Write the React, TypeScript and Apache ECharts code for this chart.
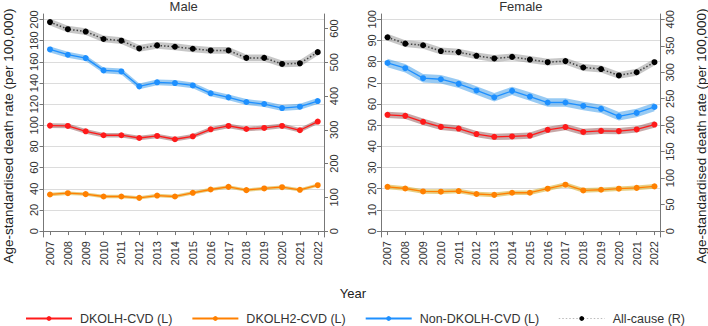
import React, { useEffect, useRef } from "react";
import * as echarts from "echarts";

// Years on the x axis
const years = [2007, 2008, 2009, 2010, 2011, 2012, 2013, 2014, 2015, 2016, 2017, 2018, 2019, 2020, 2021, 2022];

// Male rates (left axis for cause-specific, right axis for all-cause)
const maleDkolh = [99.7, 99.4, 94.3, 90.6, 90.6, 88.0, 89.9, 86.8, 89.6, 96.2, 99.4, 96.5, 97.5, 99.4, 95.3, 103.5];
const maleDkolh2 = [34.6, 35.8, 34.9, 32.7, 32.7, 31.4, 33.6, 32.7, 36.2, 39.3, 41.8, 38.7, 40.3, 41.5, 39.0, 43.4];
const maleNonDkolh = [171.7, 166.7, 163.5, 151.9, 150.9, 136.8, 140.6, 139.9, 137.7, 130.2, 126.4, 122.0, 120.1, 116.3, 117.6, 122.9];
const maleAllCause = [619, 598, 591, 569, 564, 541, 550, 546, 540, 535, 535, 513, 513, 495, 497, 530];

// Female rates
const femaleDkolh = [54.9, 54.4, 51.6, 49.2, 48.4, 45.8, 44.5, 44.7, 45.1, 47.8, 49.1, 46.8, 47.3, 47.2, 48.0, 50.3];
const femaleDkolh2 = [20.9, 20.1, 18.7, 18.6, 18.9, 17.5, 17.1, 18.1, 18.1, 20.0, 21.9, 19.2, 19.5, 20.0, 20.4, 21.1];
const femaleNonDkolh = [79.4, 76.9, 72.2, 71.7, 69.5, 66.4, 63.2, 66.2, 63.5, 60.7, 60.7, 59.1, 57.7, 54.2, 55.8, 58.6];
const femaleAllCause = [366, 354, 351, 340, 338, 331, 326, 329, 324, 319, 321, 309, 306, 294, 300, 319];

// 95% CI half-widths (same units as the series)
const maleCi = { dkolh: 2.2, dkolh2: 1.6, non: 2.8, all: 10 };
const femaleCi = { dkolh: 1.5, dkolh2: 1.1, non: 2.0, all: 6.5 };

// Axis tick values
const maleLeftTicks = [0, 20, 40, 60, 80, 100, 120, 140, 160, 180, 200];
const maleRightTicks = [0, 100, 200, 300, 400, 500, 600];
const femaleLeftTicks = [0, 10, 20, 30, 40, 50, 60, 70, 80, 90, 100];
const femaleRightTicks = [0, 50, 100, 150, 200, 250, 300, 350, 400];

const seriesNames = ["DKOLH-CVD (L)", "DKOLH2-CVD (L)", "Non-DKOLH-CVD (L)", "All-cause (R)"];

const FONT = "'Liberation Sans', Arial, sans-serif";
const TEXT = "#333";
const AXIS = "#777";

const styles = {
  dkolh: { line: "#ff1a1a", band: "rgba(130,60,60,0.45)" },
  dkolh2: { line: "#ff8000", band: "rgba(215,175,50,0.6)" },
  non: { line: "#1e90ff", band: "rgba(40,145,230,0.48)" },
  all: { line: "#333", band: "rgba(130,130,130,0.45)" },
};

type Key = "dkolh" | "dkolh2" | "non" | "all";

// Confidence band drawn as one polygon through the axis scales
function bandSeries(key: Key, values: number[], hw: number, xi: number, yi: number) {
  const lo = values.map((v) => v - hw);
  const hi = values.map((v) => v + hw);
  return {
    type: "custom",
    xAxisIndex: xi,
    yAxisIndex: yi,
    silent: true,
    z: 1,
    data: years.map((y, i) => [y, lo[i], hi[i]]),
    encode: { x: 0, y: [1, 2] },
    renderItem: (params: any, api: any) => {
      if (params.dataIndex !== 0) return null;
      const upper = years.map((y, i) => api.coord([y, hi[i]]));
      const lower = years.map((y, i) => api.coord([y, lo[i]])).reverse();
      return {
        type: "polygon",
        shape: { points: [...upper, ...lower] },
        style: { fill: styles[key].band },
      };
    },
  };
}

function mainSeries(name: string, key: Key, values: number[], xi: number, yi: number) {
  const isAll = key === "all";
  return {
    type: "line",
    name,
    xAxisIndex: xi,
    yAxisIndex: yi,
    symbol: "circle",
    symbolSize: 6,
    itemStyle: { color: isAll ? "#000" : styles[key].line },
    lineStyle: isAll
      ? { color: "#444", width: 1.5, type: [1.5, 2] }
      : { color: styles[key].line, width: 1.3 },
    data: years.map((y, i) => [y, values[i]]),
    z: 3,
  };
}

function panel(xi: number, yl: number, yr: number, d: any, ci: any) {
  return [
    bandSeries("all", d.all, ci.all, xi, yr),
    bandSeries("non", d.non, ci.non, xi, yl),
    bandSeries("dkolh", d.dkolh, ci.dkolh, xi, yl),
    bandSeries("dkolh2", d.dkolh2, ci.dkolh2, xi, yl),
    mainSeries(seriesNames[3], "all", d.all, xi, yr),
    mainSeries(seriesNames[2], "non", d.non, xi, yl),
    mainSeries(seriesNames[0], "dkolh", d.dkolh, xi, yl),
    mainSeries(seriesNames[1], "dkolh2", d.dkolh2, xi, yl),
  ];
}

function xAxis(gridIndex: number) {
  return {
    type: "value",
    gridIndex,
    min: 2006.636,
    max: 2022.35,
    axisLine: { show: true, lineStyle: { color: AXIS } },
    axisTick: { show: true, length: 4, customValues: years, lineStyle: { color: AXIS } },
    axisLabel: {
      customValues: years,
      rotate: 90,
      fontSize: 11,
      color: TEXT,
      fontFamily: FONT,
      margin: 4,
      formatter: (v: number) => String(v),
    },
    splitLine: { show: false },
  };
}

function yAxis(gridIndex: number, position: string, min: number, max: number, ticks: number[], grid: boolean) {
  return {
    type: "value",
    gridIndex,
    position,
    min,
    max,
    axisLine: { show: true, lineStyle: { color: AXIS } },
    axisTick: { show: true, length: 4, customValues: ticks, lineStyle: { color: AXIS } },
    axisLabel: {
      customValues: ticks,
      rotate: 90,
      fontSize: 11,
      color: TEXT,
      fontFamily: FONT,
      margin: 4,
    },
    splitLine: { show: grid, lineStyle: { color: "#dcdcdc", width: 1 } },
  };
}

export default function App() {
  const ref = useRef<HTMLDivElement>(null);

  useEffect(() => {
    document.body.style.margin = "0";
    const chart = echarts.init(ref.current!, null, { renderer: "svg" });

    const male = { dkolh: maleDkolh, dkolh2: maleDkolh2, non: maleNonDkolh, all: maleAllCause };
    const female = { dkolh: femaleDkolh, dkolh2: femaleDkolh2, non: femaleNonDkolh, all: femaleAllCause };

    chart.setOption({
      animation: false,
      textStyle: { fontFamily: FONT },
      grid: [
        { left: 43.5, top: 14, width: 280.5, height: 223 },
        { left: 381, top: 14, width: 279.7, height: 223 },
      ],
      xAxis: [xAxis(0), xAxis(1)],
      yAxis: [
        yAxis(0, "left", -5.6, 205.2, maleLeftTicks, true),
        yAxis(0, "right", -17.5, 643, maleRightTicks, false),
        yAxis(1, "left", -2.8, 102.5, femaleLeftTicks, true),
        yAxis(1, "right", -11.2, 410, femaleRightTicks, false),
      ],
      legend: {
        left: 25,
        top: 312,
        padding: 0,
        itemWidth: 46,
        itemHeight: 6,
        itemGap: 19,
        textStyle: { fontSize: 12.5, color: TEXT, fontFamily: FONT, padding: [0, 0, 0, 3] },
        data: [
          { name: seriesNames[0] },
          { name: seriesNames[1] },
          { name: seriesNames[2] },
          { name: seriesNames[3], lineStyle: { color: "#bbb", type: [1.5, 2], width: 1.2 } },
        ],
      },
      graphic: [
        { type: "text", x: 183.7, y: 6, style: { text: "Male", fill: TEXT, font: `13px ${FONT}`, align: "center", verticalAlign: "middle" } },
        { type: "text", x: 520.8, y: 6, style: { text: "Female", fill: TEXT, font: `13px ${FONT}`, align: "center", verticalAlign: "middle" } },
        {
          type: "text", x: 8, y: 136, rotation: Math.PI / 2,
          style: { text: "Age-standardised death rate (per 100,000)", fill: "#222", font: `13.5px ${FONT}`, align: "center", verticalAlign: "middle" },
        },
        {
          type: "text", x: 701, y: 136, rotation: Math.PI / 2,
          style: { text: "Age-standardised death rate (per 100,000)", fill: "#222", font: `13.5px ${FONT}`, align: "center", verticalAlign: "middle" },
        },
        { type: "text", x: 353, y: 293, style: { text: "Year", fill: "#222", font: `13px ${FONT}`, align: "center", verticalAlign: "middle" } },
      ],
      series: [...panel(0, 0, 1, male, maleCi), ...panel(1, 2, 3, female, femaleCi)],
    });

    return () => chart.dispose();
  }, []);

  return <div ref={ref} style={{ width: 708, height: 326 }} />;
}
